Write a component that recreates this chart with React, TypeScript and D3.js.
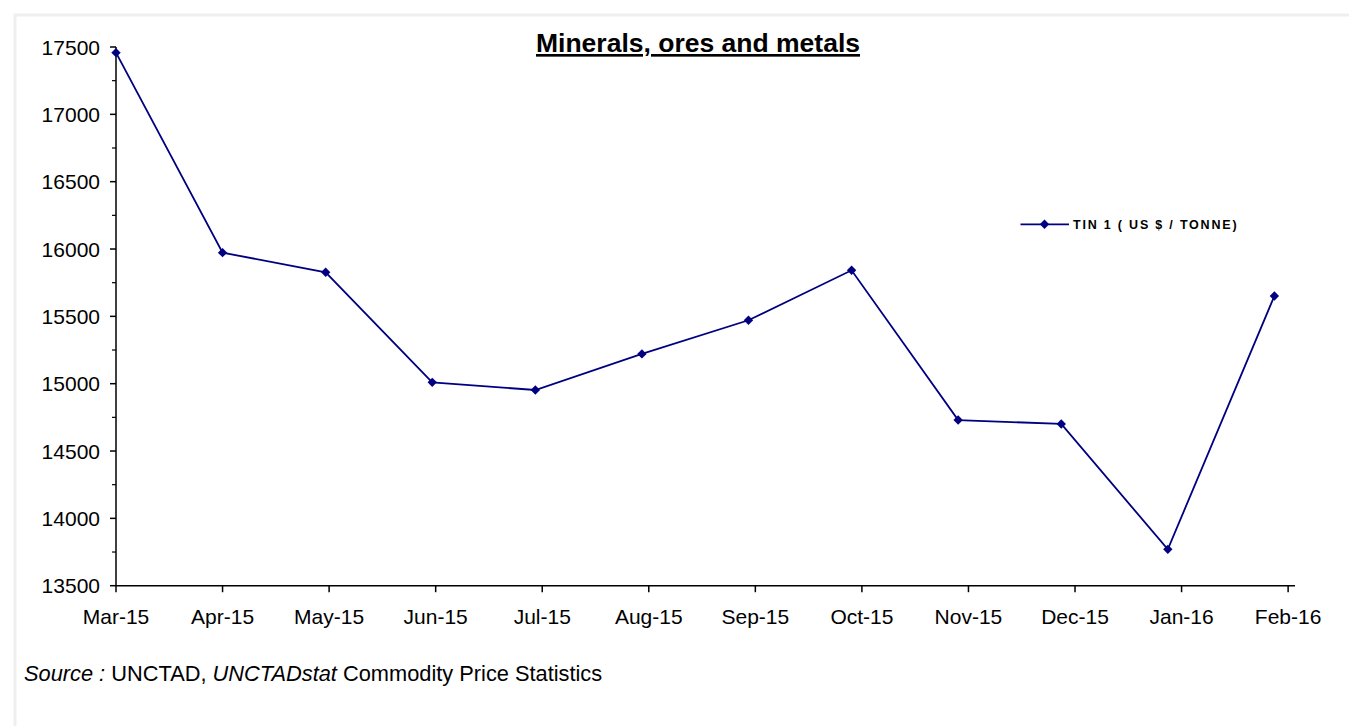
import * as d3 from 'd3';
import React from 'react';

// Monthly TIN 1 prices (US $ / tonne)
const months = [
  '2015-03-01', '2015-04-01', '2015-05-01', '2015-06-01', '2015-07-01', '2015-08-01',
  '2015-09-01', '2015-10-01', '2015-11-01', '2015-12-01', '2016-01-01', '2016-02-01',
];
const tinPrices = [17458, 15973, 15827, 15010, 14953, 15221, 15471, 15842, 14730, 14701, 13770, 15651];

const yTicks = [13500, 14000, 14500, 15000, 15500, 16000, 16500, 17000, 17500];
const xTickLabels = ['Mar-15', 'Apr-15', 'May-15', 'Jun-15', 'Jul-15', 'Aug-15', 'Sep-15', 'Oct-15', 'Nov-15', 'Dec-15', 'Jan-16', 'Feb-16'];

const seriesName = 'TIN 1 ( US $ / TONNE)';
const title = 'Minerals, ores and metals';

const WIDTH = 1349;
const HEIGHT = 726;
const PLOT = { left: 116, right: 1295, top: 47, bottom: 585.7 };
const FONT = '"Liberation Sans", Arial, sans-serif';
const NAVY = '#000080';
const MAJOR_DAYS = 31; // Excel date axis, major unit of 31 days

export default function App() {
  const start = new Date(months[0] + 'T00:00:00Z');
  const end = d3.utcDay.offset(start, 343);

  const xScale = d3.scaleUtc().domain([start, end]).range([PLOT.left, PLOT.right]);
  const yScale = d3.scaleLinear().domain([13500, 17500]).range([PLOT.bottom, PLOT.top]);

  const data = months.map((m, i) => ({ date: new Date(m + 'T00:00:00Z'), value: tinPrices[i] }));

  const line = d3
    .line<{ date: Date; value: number }>()
    .x(d => xScale(d.date))
    .y(d => yScale(d.value));

  const marker = d3.symbol().type(d3.symbolSquare).size(44)();

  const xTicks = xTickLabels.map((label, i) => ({
    label,
    x: xScale(d3.utcDay.offset(start, MAJOR_DAYS * i)),
  }));

  const minorTicks = d3.range(13750, 17500, 500);

  return (
    <svg
      width={WIDTH}
      height={HEIGHT}
      style={{ position: 'absolute', left: 0, top: 0, background: '#fff' }}
      fontFamily={FONT}
    >
      <rect x={15} y={15} width={1400} height={800} fill="#fff" stroke="#efefef" strokeWidth={3} />

      <text
        x={698}
        y={52}
        textAnchor="middle"
        fontSize={26.5}
        fontWeight="bold"
        textDecoration="underline"
      >
        {title}
      </text>

      {/* y axis */}
      <line x1={PLOT.left} x2={PLOT.left} y1={PLOT.top} y2={PLOT.bottom} stroke="#000" strokeWidth={1.5} />
      {yTicks.map(t => (
        <g key={t}>
          <line x1={PLOT.left - 6} x2={PLOT.left} y1={yScale(t)} y2={yScale(t)} stroke="#000" strokeWidth={1.5} />
          <text x={100} y={yScale(t)} dy="0.36em" textAnchor="end" fontSize={21}>
            {t}
          </text>
        </g>
      ))}
      {minorTicks.map(t => (
        <line key={t} x1={PLOT.left - 4} x2={PLOT.left} y1={yScale(t)} y2={yScale(t)} stroke="#000" strokeWidth={1.2} />
      ))}

      {/* x axis */}
      <line x1={PLOT.left} x2={PLOT.right} y1={PLOT.bottom} y2={PLOT.bottom} stroke="#000" strokeWidth={1.5} />
      {xTicks.map(t => (
        <g key={t.label}>
          <line x1={t.x} x2={t.x} y1={PLOT.bottom} y2={PLOT.bottom + 6.5} stroke="#000" strokeWidth={1.5} />
          <text x={t.x} y={623.5} textAnchor="middle" fontSize={21}>
            {t.label}
          </text>
        </g>
      ))}

      {/* series */}
      <path d={line(data) ?? ''} fill="none" stroke={NAVY} strokeWidth={1.8} />
      {data.map((d, i) => (
        <path
          key={i}
          d={marker}
          fill={NAVY}
          transform={`translate(${xScale(d.date)},${yScale(d.value)}) rotate(45)`}
        />
      ))}

      {/* legend */}
      <line x1={1020.5} x2={1069} y1={224.3} y2={224.3} stroke={NAVY} strokeWidth={1.8} />
      <path d={marker} fill={NAVY} transform="translate(1044.5,224.3) rotate(45)" />
      <text x={1073} y={224.3} dy="0.36em" fontSize={12.5} fontWeight="bold" letterSpacing={1.8}>
        {seriesName}
      </text>

      {/* source note */}
      <text x={24} y={681} fontSize={21.8}>
        <tspan fontStyle="italic">Source :</tspan>
        <tspan> UNCTAD, </tspan>
        <tspan fontStyle="italic">UNCTADstat</tspan>
        <tspan> Commodity Price Statistics</tspan>
      </text>
    </svg>
  );
}
